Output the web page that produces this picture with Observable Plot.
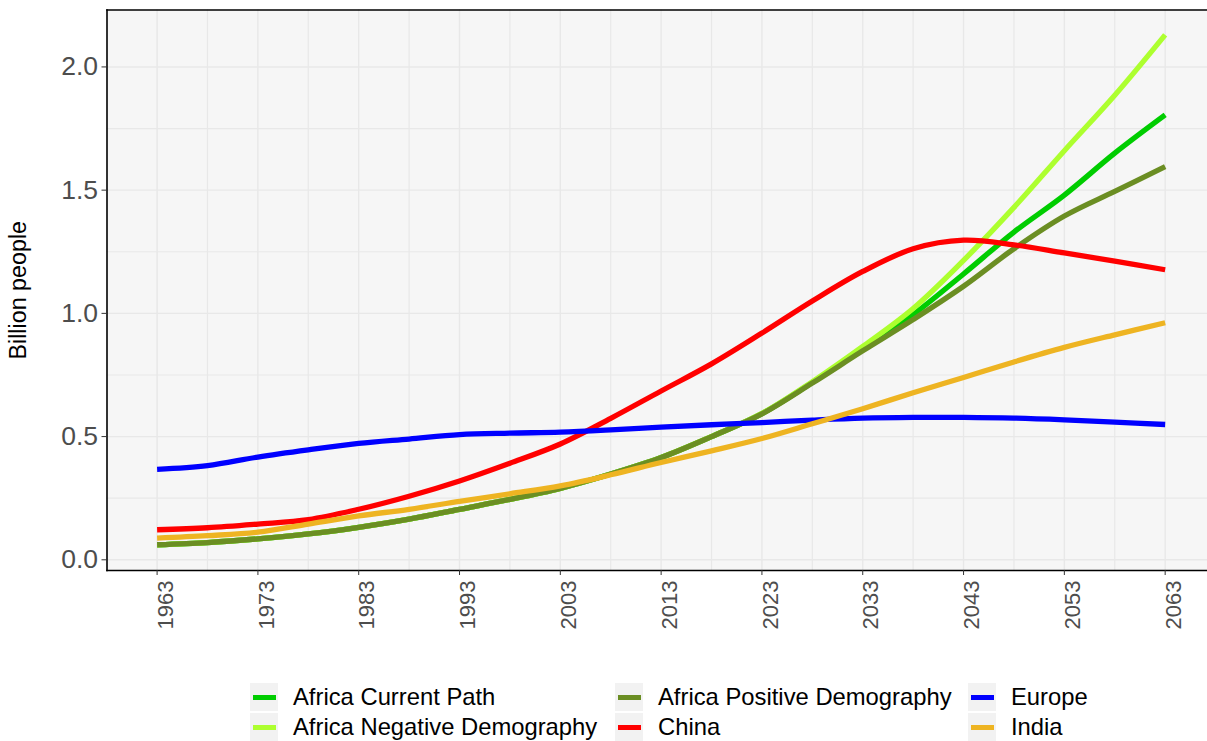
<!DOCTYPE html>
<html><head><meta charset="utf-8">
<script src="https://cdn.jsdelivr.net/npm/d3@7"></script>
<script src="https://cdn.jsdelivr.net/npm/@observablehq/plot@0.6"></script>
<style>
body{margin:0;background:#fff;font-family:"Liberation Sans",Arial,sans-serif;}
#chart svg{display:block;}
#legend{display:grid;grid-auto-flow:column;grid-template-rows:28px 28px;grid-template-columns:365px 353px auto;row-gap:2px;margin-left:250px;}
.item{display:flex;align-items:center;height:28px;}
.key{width:28px;height:28px;background:#F2F2F2;display:flex;align-items:center;justify-content:center;margin-right:15px;flex:none;}
.key span{width:23px;height:5px;display:block;}
.lab{font-size:23.8px;color:#000;white-space:nowrap;}
</style></head><body>
<div id="chart"></div><div id="legend"></div>
<script>
const years = [1963,1968,1973,1978,1983,1988,1993,1998,2003,2008,2013,2018,2023,2028,2033,2038,2043,2048,2053,2058,2063];
const seriesNames = ["Africa Current Path","Africa Negative Demography","Africa Positive Demography","China","Europe","India"];
const seriesColors = ["#00CD00","#ADFF2F","#6B8E23","#FF0000","#0000FF","#EEB422"];
const africaCurrent  = [0.061,0.070,0.085,0.105,0.132,0.165,0.205,0.245,0.290,0.348,0.415,0.500,0.593,0.720,0.855,0.995,1.160,1.330,1.480,1.650,1.805];
const africaNegative = [0.061,0.070,0.085,0.105,0.132,0.165,0.205,0.245,0.290,0.348,0.415,0.500,0.594,0.723,0.866,1.020,1.215,1.430,1.660,1.885,2.130];
const africaPositive = [0.061,0.070,0.085,0.105,0.132,0.165,0.205,0.245,0.290,0.348,0.415,0.500,0.592,0.717,0.848,0.975,1.110,1.262,1.395,1.495,1.595];
const china  = [0.122,0.130,0.145,0.163,0.205,0.258,0.320,0.392,0.470,0.574,0.685,0.795,0.920,1.050,1.170,1.262,1.297,1.278,1.245,1.212,1.177];
const europe = [0.367,0.382,0.417,0.446,0.472,0.490,0.508,0.514,0.518,0.527,0.538,0.548,0.557,0.567,0.575,0.578,0.578,0.575,0.568,0.559,0.549];
const india  = [0.088,0.098,0.112,0.145,0.178,0.205,0.237,0.268,0.300,0.345,0.395,0.442,0.492,0.552,0.613,0.678,0.740,0.803,0.862,0.913,0.962];
const xTicks = [1963,1973,1983,1993,2003,2013,2023,2033,2043,2053,2063];
const xMinor = [1968,1978,1988,1998,2008,2018,2028,2038,2048,2058];
const yTicks = [0,0.5,1,1.5,2];
const yMinor = [0.25,0.75,1.25,1.75];

const allSeries = [africaCurrent, africaNegative, africaPositive, china, europe, india];
const rows = [];
allSeries.forEach((vals, i) => vals.forEach((v, j) => rows.push({year: years[j], value: v, series: seriesNames[i]})));

const grid = "#E8E8E8";
const chart = Plot.plot({
  width: 1207, height: 683,
  marginLeft: 106.5, marginRight: 0, marginTop: 9.5, marginBottom: 113,
  x: {domain: [1958.03, 2067.2]},
  y: {domain: [-0.0434, 2.231]},
  color: {domain: seriesNames, range: seriesColors},
  style: {fontFamily: '"Liberation Sans", Arial, sans-serif', background: "#fff"},
  marks: [
    Plot.frame({fill: "#F6F6F6", stroke: null}),
    Plot.gridX(xMinor, {stroke: grid, strokeOpacity: 1, strokeWidth: 1.2}),
    Plot.gridX(xTicks, {stroke: grid, strokeOpacity: 1, strokeWidth: 1.4}),
    Plot.gridY(yMinor, {stroke: grid, strokeOpacity: 1, strokeWidth: 1.2}),
    Plot.gridY(yTicks, {stroke: grid, strokeOpacity: 1, strokeWidth: 1.4}),
    Plot.line(rows, {x: "year", y: "value", z: "series", stroke: "series", strokeWidth: 5.3, curve: "catmull-rom", strokeLinecap: "butt"}),
    Plot.frame({anchor: "top", stroke: "#000", strokeWidth: 1.6}),
    Plot.frame({anchor: "left", stroke: "#000", strokeWidth: 1.6}),
    Plot.frame({anchor: "bottom", stroke: "#000", strokeWidth: 1.6}),
    Plot.axisY(yTicks, {tickFormat: d => d.toFixed(1), tickSize: 5, tickPadding: 4, fontSize: 26.5, stroke: "#333", fill: "#4D4D4D", label: null}),
    Plot.axisX(xTicks, {tickFormat: d => String(d), tickRotate: -90, textAnchor: "end", lineAnchor: "top", tickSize: 5, tickPadding: 5, fontSize: 22, stroke: "#333", fill: "#4D4D4D", label: null}),
    Plot.text(["Billion people"], {text: d => d, frameAnchor: "left", textAnchor: "middle", rotate: -90, dx: -88.5, fontSize: 23.3, fill: "#000"})
  ]
});
document.getElementById("chart").append(chart);

const legend = document.getElementById("legend");
seriesNames.forEach((name, i) => {
  const item = document.createElement("div");
  item.className = "item";
  item.innerHTML = `<div class="key"><span style="background:${seriesColors[i]}"></span></div><div class="lab">${name}</div>`;
  legend.append(item);
});
</script></body></html>
